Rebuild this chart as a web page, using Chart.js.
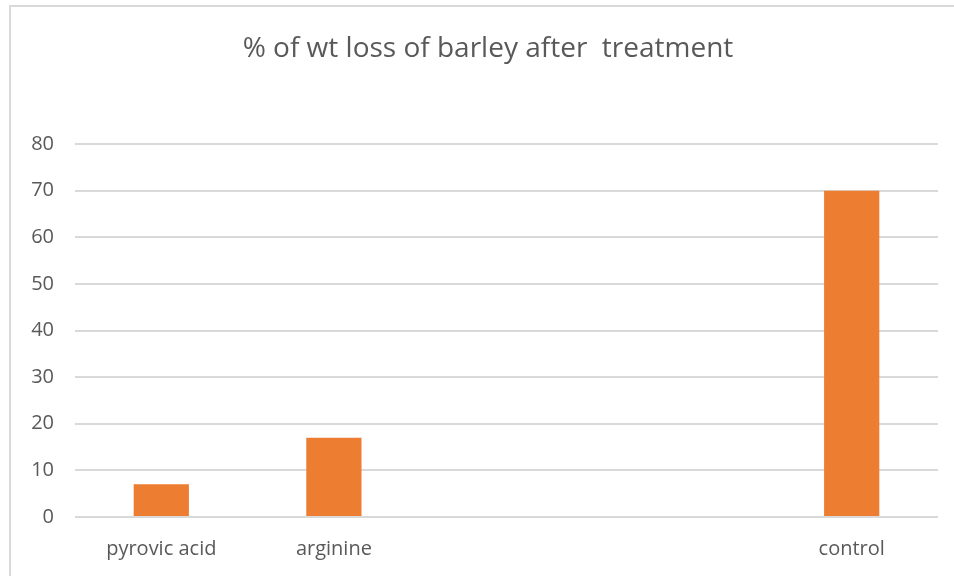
<!DOCTYPE html>
<html>
<head>
<meta charset="utf-8">
<script src="https://cdn.jsdelivr.net/npm/chart.js@4/dist/chart.umd.min.js"></script>
<style>
  html, body { margin: 0; padding: 0; background: #ffffff; }
  #wrap { position: relative; width: 954px; height: 576px; overflow: hidden; }
  #frame { position: absolute; left: 9px; top: 5px; width: 1000px; height: 1000px;
           border-left: 2px solid #d9d9d9; border-top: 2px solid #d9d9d9; box-sizing: border-box; }
  canvas { position: absolute; left: 0; top: 0; }
</style>
</head>
<body>
<div id="wrap">
  <div id="frame"></div>
  <canvas id="c" width="954" height="576"></canvas>
</div>
<script>
const titleText = '% of wt loss of barley after  treatment';
const categories = ['pyrovic acid', 'arginine', '', '', 'control'];
const weightLoss = [7, 17, null, null, 70];
const yTicks = [0, 10, 20, 30, 40, 50, 60, 70, 80];

const FONT = "'Open Sans', 'Liberation Sans', sans-serif";
const TEXT = '#595959';

// Chart title drawn centred over the chart object (as in the original), not just the plot
const titlePlugin = {
  id: 'chartTitle',
  afterDraw(chart) {
    const ctx = chart.ctx;
    ctx.save();
    ctx.font = "normal 28px " + FONT;
    ctx.fillStyle = TEXT;
    ctx.textAlign = 'center';
    ctx.textBaseline = 'middle';
    ctx.fillText(titleText, 488, 49);
    ctx.restore();
  }
};

new Chart(document.getElementById('c'), {
  type: 'bar',
  data: {
    labels: categories,
    datasets: [{
      label: '% wt loss',
      data: weightLoss,
      backgroundColor: '#ed7d31',
      borderWidth: 0,
      categoryPercentage: 1,
      barPercentage: 0.32
    }]
  },
  plugins: [titlePlugin],
  options: {
    responsive: false,
    animation: false,
    layout: { padding: { left: 0, right: 16, top: 144, bottom: 0 } },
    plugins: {
      legend: { display: false },
      tooltip: { enabled: false },
      title: { display: false }
    },
    scales: {
      x: {
        grid: { display: false, drawTicks: false },
        border: { display: false },
        ticks: { color: TEXT, font: { family: FONT, size: 20 }, padding: 20, maxRotation: 0, autoSkip: false },
        afterFit: (s) => { s.height = 59; }
      },
      y: {
        min: 0, max: 80,
        afterBuildTicks: (s) => { s.ticks = yTicks.map(v => ({ value: v })); },
        grid: { color: '#d9d9d9', lineWidth: 2, drawTicks: false },
        border: { display: false },
        ticks: { color: TEXT, font: { family: FONT, size: 20 }, padding: 21 },
        afterFit: (s) => { s.width = 75; }
      }
    }
  }
});
</script>
</body>
</html>
